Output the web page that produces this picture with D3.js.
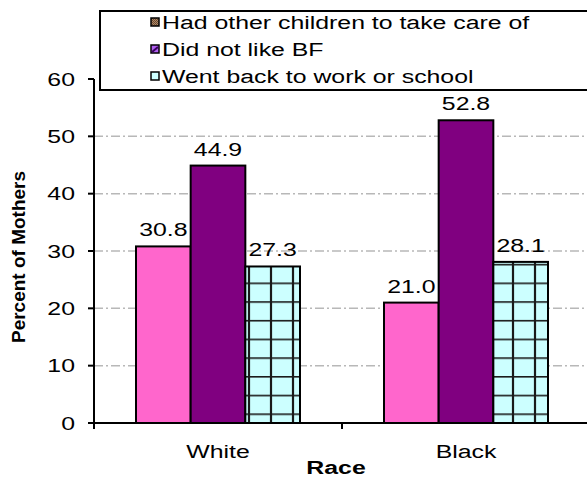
<!DOCTYPE html>
<html>
<head>
<meta charset="utf-8">
<script src="https://cdn.jsdelivr.net/npm/d3@7"></script>
<style>
  body { margin: 0; background: #fff; }
  text { font-family: "Liberation Sans", Arial, sans-serif; fill: #000; }
</style>
</head>
<body>
<div id="chart"></div>
<script>
// data
const races = ["White", "Black"];
const reasons = ["Had other children to take care of", "Did not like BF", "Went back to work or school"];
const hadOtherChildren = [30.8, 21.0];
const didNotLikeBF = [44.9, 52.8];
const backToWork = [27.3, 28.1];
const yTicks = [0, 10, 20, 30, 40, 50, 60];
const gridTicks = [10, 20, 30, 40, 50];

const W = 587, H = 478;
const SX = 1.38;   // text in the picture is stretched wide
const FS = 18;

const svg = d3.select("#chart").append("svg")
    .attr("width", W)
    .attr("height", H);

const defs = svg.append("defs");

// cyan grid fill for the third series
const grid = defs.append("pattern")
    .attr("id", "gridFill")
    .attr("patternUnits", "userSpaceOnUse")
    .attr("width", 22)
    .attr("height", 18.7)
    .attr("x", 4)
    .attr("y", 2);
grid.append("rect").attr("width", 22).attr("height", 18.7).attr("fill", "#ccffff");
grid.append("line").attr("x1", 0).attr("x2", 22).attr("y1", 0.5).attr("y2", 0.5)
    .attr("stroke", "#1a1a1a").attr("stroke-width", 2.2);
grid.append("line").attr("x1", 3).attr("x2", 3).attr("y1", 0).attr("y2", 18.7)
    .attr("stroke", "#1a1a1a").attr("stroke-width", 2.2);

// tiny checker for the first legend swatch
const chk = defs.append("pattern")
    .attr("id", "chkFill")
    .attr("patternUnits", "userSpaceOnUse")
    .attr("width", 2).attr("height", 2);
chk.append("rect").attr("width", 2).attr("height", 2).attr("fill", "#b08868");
chk.append("rect").attr("width", 1).attr("height", 1).attr("fill", "#6a4a30");
chk.append("rect").attr("x", 1).attr("y", 1).attr("width", 1).attr("height", 1).attr("fill", "#6a4a30");

const series = [
    { name: reasons[0], values: hadOtherChildren, fill: "#ff66cc" },
    { name: reasons[1], values: didNotLikeBF, fill: "#800080" },
    { name: reasons[2], values: backToWork, fill: "url(#gridFill)" }
];

// scales
const x0 = d3.scaleBand().domain(races).range([94, 590]);
const x1 = d3.scaleBand().domain(reasons).range([42, 206]);
const y = d3.scaleLinear().domain([0, 60]).range([423, 79]);

// grid lines (dash-dot)
svg.append("g").selectAll("line")
    .data(gridTicks)
    .join("line")
    .attr("x1", 94).attr("x2", W)
    .attr("y1", d => y(d)).attr("y2", d => y(d))
    .attr("stroke", "#b8b8b8")
    .attr("stroke-width", 1.5)
    .attr("stroke-dasharray", "9,3,2,3");

// bars
const groups = svg.append("g").selectAll("g")
    .data(series)
    .join("g");

groups.selectAll("rect")
    .data(s => s.values.map((v, i) => ({ race: races[i], value: v, s: s })))
    .join("rect")
    .attr("x", d => x0(d.race) + x1(d.s.name))
    .attr("y", d => y(d.value))
    .attr("width", x1.bandwidth())
    .attr("height", d => y(0) - y(d.value))
    .attr("fill", d => d.s.fill)
    .attr("stroke", "#000")
    .attr("stroke-width", 2);

// value labels
groups.selectAll("text")
    .data(s => s.values.map((v, i) => ({ race: races[i], value: v, s: s })))
    .join("text")
    .attr("transform", d => `translate(${x0(d.race) + x1(d.s.name) + x1.bandwidth() / 2},${y(d.value) - 10}) scale(${SX},1)`)
    .attr("text-anchor", "middle")
    .attr("font-size", FS)
    .text(d => d3.format(".1f")(d.value));

// y axis
svg.append("line")
    .attr("x1", 94).attr("x2", 94)
    .attr("y1", y(60)).attr("y2", y(0) + 6)
    .attr("stroke", "#000").attr("stroke-width", 2);

svg.append("g").selectAll("line")
    .data(yTicks)
    .join("line")
    .attr("x1", 88).attr("x2", 94)
    .attr("y1", d => y(d)).attr("y2", d => y(d))
    .attr("stroke", "#000").attr("stroke-width", 2);

svg.append("g").selectAll("text")
    .data(yTicks)
    .join("text")
    .attr("transform", d => `translate(75,${y(d) + 6.5}) scale(${SX},1)`)
    .attr("text-anchor", "end")
    .attr("font-size", FS)
    .text(d => d);

// x axis
svg.append("line")
    .attr("x1", 93).attr("x2", W)
    .attr("y1", y(0)).attr("y2", y(0))
    .attr("stroke", "#000").attr("stroke-width", 2);

svg.append("line")
    .attr("x1", x0("Black")).attr("x2", x0("Black"))
    .attr("y1", y(0)).attr("y2", y(0) + 6)
    .attr("stroke", "#000").attr("stroke-width", 2);

svg.append("g").selectAll("text")
    .data(races)
    .join("text")
    .attr("transform", d => `translate(${x0(d) + x0.bandwidth() / 2},458) scale(${SX},1)`)
    .attr("text-anchor", "middle")
    .attr("font-size", FS)
    .text(d => d);

// axis titles
svg.append("text")
    .attr("transform", `translate(336,474) scale(${SX},1)`)
    .attr("text-anchor", "middle")
    .attr("font-size", FS)
    .attr("font-weight", "bold")
    .text("Race");

svg.append("text")
    .attr("transform", "translate(25,257) rotate(-90)")
    .attr("text-anchor", "middle")
    .attr("font-size", 19)
    .attr("font-weight", "bold")
    .text("Percent of Mothers");

// legend
const legend = svg.append("g");
legend.append("rect")
    .attr("x", 100).attr("y", 11)
    .attr("width", 520).attr("height", 79)
    .attr("fill", "#fff")
    .attr("stroke", "#000").attr("stroke-width", 2);

const swatches = ["url(#chkFill)", "#b060f0", "#ccffff"];
const rowY = d3.scalePoint().domain(reasons).range([22, 76]);

legend.selectAll("rect.sw")
    .data(reasons)
    .join("rect")
    .attr("class", "sw")
    .attr("x", 151).attr("y", d => rowY(d) - 4)
    .attr("width", 8).attr("height", 8)
    .attr("fill", (d, i) => swatches[i])
    .attr("stroke", "#000").attr("stroke-width", 1.5);

// dark stripe on the purple swatch
legend.append("line")
    .attr("x1", 152).attr("y1", rowY(reasons[1]) + 3)
    .attr("x2", 158).attr("y2", rowY(reasons[1]) - 2)
    .attr("stroke", "#3a0060").attr("stroke-width", 2);

legend.selectAll("text")
    .data(reasons)
    .join("text")
    .attr("transform", d => `translate(162,${rowY(d) + 6.5}) scale(${SX},1)`)
    .attr("font-size", FS)
    .text(d => d);
</script>
</body>
</html>
